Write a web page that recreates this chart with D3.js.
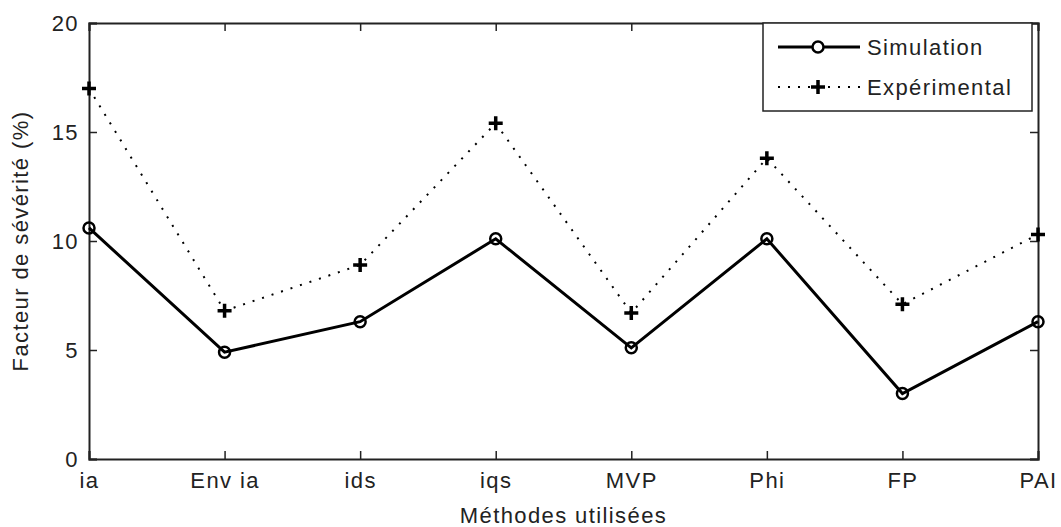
<!DOCTYPE html>
<meta charset="utf-8">
<script src="https://d3js.org/d3.v7.min.js"></script>
<style>
  html, body { margin: 0; background: #fff; }
  text { font-family: "Liberation Sans", Arial, sans-serif; font-size: 22px; fill: #222; letter-spacing: 1.4px; }
</style>
<body>
<script>
  // data
  var methods = ["ia", "Env ia", "ids", "iqs", "MVP", "Phi", "FP", "PAI"];
  var simulation = [10.6, 4.9, 6.3, 10.1, 5.1, 10.1, 3.0, 6.3];
  var experimental = [17.0, 6.8, 8.9, 15.4, 6.7, 13.8, 7.1, 10.3];
  var yTicks = [0, 5, 10, 15, 20];

  var margin = { top: 23, right: 23, bottom: 68, left: 89 },
    width = 1061 - margin.left - margin.right,
    height = 527 - margin.top - margin.bottom;

  var svg = d3.select("body").append("svg")
    .attr("width", 1061)
    .attr("height", 527)
    .append("g")
    .attr("transform", "translate(" + margin.left + "," + margin.top + ")");

  var x = d3.scalePoint().domain(methods).range([0, width]);
  var y = d3.scaleLinear().domain([0, 20]).range([height, 0]);

  // axes, ticks pointing inward like matlab
  var xAxis = svg.append("g")
    .attr("transform", "translate(0," + height + ")")
    .call(d3.axisBottom(x).tickSize(-8).tickPadding(13));
  var xTop = svg.append("g")
    .call(d3.axisTop(x).tickSize(-8).tickFormat(""));
  var yAxis = svg.append("g")
    .call(d3.axisLeft(y).tickValues(yTicks).tickSize(-8).tickPadding(10));
  var yRight = svg.append("g")
    .attr("transform", "translate(" + width + ",0)")
    .call(d3.axisRight(y).tickValues(yTicks).tickSize(-8).tickFormat(""));

  [xAxis, xTop, yAxis, yRight].forEach(function (g) {
    g.selectAll("path").attr("stroke", "#222").attr("stroke-width", 2);
    g.selectAll("line").attr("stroke", "#222").attr("stroke-width", 1.5);
    g.selectAll("text").attr("fill", "#222").style("font-size", "22px");
  });
  yAxis.selectAll("text").attr("dy", "0.35em");

  // experimental : dotted line with plus markers
  var line = d3.line()
    .x(function (d, i) { return x(methods[i]); })
    .y(function (d) { return y(d); });

  svg.append("path")
    .datum(experimental)
    .attr("fill", "none")
    .attr("stroke", "#000")
    .attr("stroke-width", 2)
    .attr("stroke-dasharray", "2,8")
    .attr("d", line);

  svg.selectAll(".plus")
    .data(experimental)
    .enter().append("path")
    .attr("class", "plus")
    .attr("d", function (d, i) {
      var cx = x(methods[i]), cy = y(d);
      return "M" + (cx - 7) + "," + cy + "H" + (cx + 7) + "M" + cx + "," + (cy - 7) + "V" + (cy + 7);
    })
    .attr("stroke", "#000")
    .attr("stroke-width", 3.5);

  // simulation : solid line with circles
  svg.append("path")
    .datum(simulation)
    .attr("fill", "none")
    .attr("stroke", "#000")
    .attr("stroke-width", 3)
    .attr("d", line);

  svg.selectAll(".circ")
    .data(simulation)
    .enter().append("circle")
    .attr("class", "circ")
    .attr("cx", function (d, i) { return x(methods[i]); })
    .attr("cy", function (d) { return y(d); })
    .attr("r", 5.5)
    .attr("fill", "none")
    .attr("stroke", "#000")
    .attr("stroke-width", 2.5);

  // legend
  var lg = svg.append("g").attr("transform", "translate(" + (763 - margin.left) + ",0)");
  lg.append("rect")
    .attr("x", 0).attr("y", 0)
    .attr("width", 269).attr("height", 88)
    .attr("fill", "#fff")
    .attr("stroke", "#222")
    .attr("stroke-width", 1.5);
  lg.append("line")
    .attr("x1", 15).attr("x2", 97).attr("y1", 24).attr("y2", 24)
    .attr("stroke", "#000").attr("stroke-width", 3);
  lg.append("circle")
    .attr("cx", 55).attr("cy", 24).attr("r", 5.5)
    .attr("fill", "#fff").attr("stroke", "#000").attr("stroke-width", 2.5);
  lg.append("text").attr("x", 104).attr("y", 24).attr("dy", "0.35em").text("Simulation");
  lg.append("line")
    .attr("x1", 15).attr("x2", 97).attr("y1", 64).attr("y2", 64)
    .attr("stroke", "#000").attr("stroke-width", 2)
    .attr("stroke-dasharray", "2,8");
  lg.append("path")
    .attr("d", "M48,64H62M55,57V71")
    .attr("stroke", "#000").attr("stroke-width", 3.5);
  lg.append("text").attr("x", 104).attr("y", 64).attr("dy", "0.35em").text("Expérimental");

  // axis labels
  svg.append("text")
    .attr("x", width / 2)
    .attr("y", height + 64)
    .style("text-anchor", "middle")
    .text("Méthodes utilisées");

  svg.append("text")
    .attr("transform", "rotate(-90)")
    .attr("x", -height / 2)
    .attr("y", -margin.left + 28)
    .style("text-anchor", "middle")
    .text("Facteur de sévérité (%)");
</script>
</body>
